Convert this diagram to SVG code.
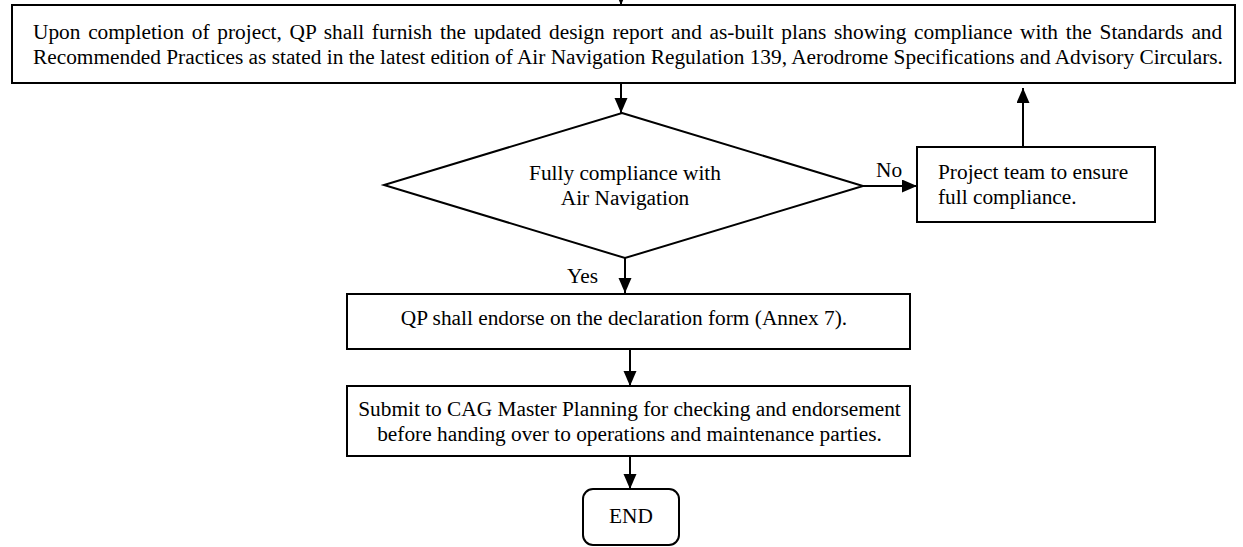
<svg xmlns="http://www.w3.org/2000/svg" width="1243" height="547" viewBox="0 0 1243 547">
<style>
.box{fill:#fff;stroke:#000;stroke-width:2}
.t{font-family:"Liberation Serif","Times New Roman",serif;font-size:21.33px;fill:#000}
.c{text-anchor:middle}
.ln{fill:none;stroke:#000;stroke-width:2}
</style>
<defs>
<marker id="ah" markerUnits="userSpaceOnUse" markerWidth="15" markerHeight="14" refX="15" refY="6.5" orient="auto">
<path d="M0,0 L15,6.5 L0,13 Z" fill="#000"/>
</marker>
</defs>
<rect width="1243" height="547" fill="#fff"/>
<g id="connectors">
<line class="ln" x1="621" y1="-20" x2="621" y2="5" marker-end="url(#ah)"/>
<line class="ln" x1="621" y1="83" x2="621" y2="113" marker-end="url(#ah)"/>
<line class="ln" x1="625" y1="258" x2="625" y2="293" marker-end="url(#ah)"/>
<line class="ln" x1="863" y1="186" x2="917" y2="186" marker-end="url(#ah)"/>
<line class="ln" x1="1023" y1="147" x2="1023" y2="88" marker-end="url(#ah)"/>
<line class="ln" x1="630" y1="349" x2="630" y2="386" marker-end="url(#ah)"/>
<line class="ln" x1="630" y1="456" x2="630" y2="489" marker-end="url(#ah)"/>
<text class="t" x="876" y="177">No</text>
<text class="t" x="567" y="283">Yes</text>
</g>
<g id="start">
<rect class="box" x="12" y="5" width="1223" height="78"/>
<text class="t" x="33" y="39" word-spacing="2.4">Upon completion of project, QP shall furnish the updated design report and as-built plans showing compliance with the Standards and</text>
<text class="t" x="33" y="64">Recommended Practices as stated in the latest edition of Air Navigation Regulation 139, Aerodrome Specifications and Advisory Circulars.</text>
</g>
<g id="decision">
<polygon class="box" points="622,113 863,186 625,258 384,185"/>
<text class="t c" x="625" y="180">Fully compliance with</text>
<text class="t c" x="625" y="205">Air Navigation</text>
</g>
<g id="team">
<rect class="box" x="917" y="147" width="238" height="75"/>
<text class="t" x="938" y="179">Project team to ensure</text>
<text class="t" x="938" y="204">full compliance.</text>
</g>
<g id="endorse">
<rect class="box" x="347" y="294" width="563" height="55"/>
<text class="t c" x="624" y="325">QP shall endorse on the declaration form (Annex 7).</text>
</g>
<g id="submit">
<rect class="box" x="347" y="386" width="563" height="70"/>
<text class="t c" x="629.5" y="416">Submit to CAG Master Planning for checking and endorsement</text>
<text class="t c" x="629.5" y="441">before handing over to operations and maintenance parties.</text>
</g>
<g id="end">
<rect class="box" x="583" y="489" width="96" height="56" rx="10"/>
<text class="t c" x="631" y="523">END</text>
</g>
</svg>
